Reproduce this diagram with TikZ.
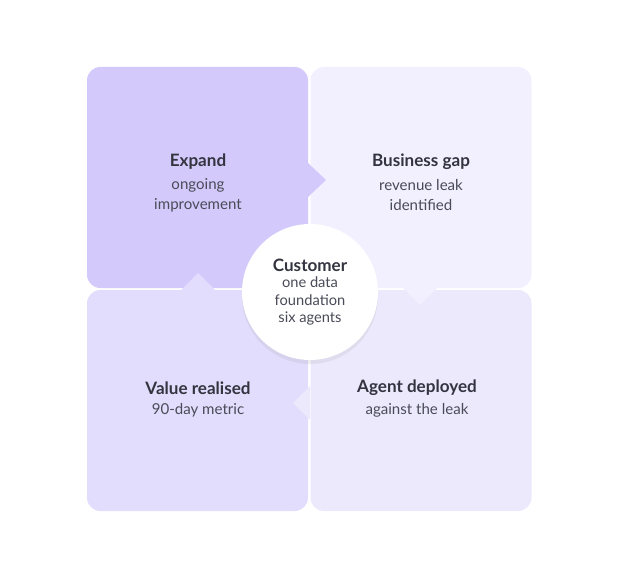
\documentclass[tikz,border=0pt]{standalone}
\usepackage{fontspec}
\setmainfont{Lato}
\usetikzlibrary{shadows}
\definecolor{cTL}{HTML}{D3CAFB}
\definecolor{cTR}{HTML}{F2F0FE}
\definecolor{cBL}{HTML}{E2DDFC}
\definecolor{cBR}{HTML}{ECE9FD}
\definecolor{ink}{HTML}{33343F}
\definecolor{sub}{HTML}{4A4B58}
\begin{document}
\begin{tikzpicture}[x=0.75pt,y=-0.75pt,
  tile/.style={rounded corners=10pt,minimum width=165.75pt,minimum height=165.75pt,inner sep=0pt,draw=none},
  lbl/.style={align=center,text=ink,font=\fontsize{12.8}{15}\selectfont\bfseries},
  sublbl/.style={align=center,text=sub,font=\fontsize{11.3}{15}\selectfont}]
\useasboundingbox (0,0) rectangle (640,585);
\node[tile,fill=cTR] (tr) at (421,177.5) {};
\node[tile,fill=cBR] (br) at (421,400.5) {};
\node[tile,fill=cBL] (bl) at (197.5,400.5) {};
\node[tile,fill=cTL] (tl) at (197.5,177.5) {};
% notches
\fill[cTL] (308,163) -- (326,180) -- (308,197) -- cycle;
\fill[cTR] (403,288) -- (420,305) -- (437,288) -- cycle;
\fill[cBR] (310,386) -- (293,403) -- (310,420) -- cycle;
\fill[cBL] (181,290) -- (198,273) -- (215,290) -- cycle;
\node[circle,fill=white,minimum size=102pt,inner sep=0pt,
  drop shadow={opacity=0.12,shadow xshift=0pt,shadow yshift=-3pt}] (c) at (310,292) {};
\node[lbl] (t1) at (198,162) {Expand};
\node[sublbl] (s1) at (198,195) {ongoing\\improvement};
\node[lbl] (t2) at (421,162) {Business gap};
\node[sublbl] (s2) at (421,195) {revenue leak\\identified};
\node[lbl] (t3) at (198,388) {Value realised};
\node[sublbl] (s3) at (198,410) {90-day metric};
\node[lbl] (t4) at (417,388) {Agent deployed};
\node[sublbl] (s4) at (417,410) {against the leak};
\node[lbl] (tc) at (310,265) {Customer};
\node[sublbl,font=\fontsize{11}{12.8}\selectfont] (sc) at (310,301) {one data\\foundation\\six agents};
\end{tikzpicture}
\end{document}
